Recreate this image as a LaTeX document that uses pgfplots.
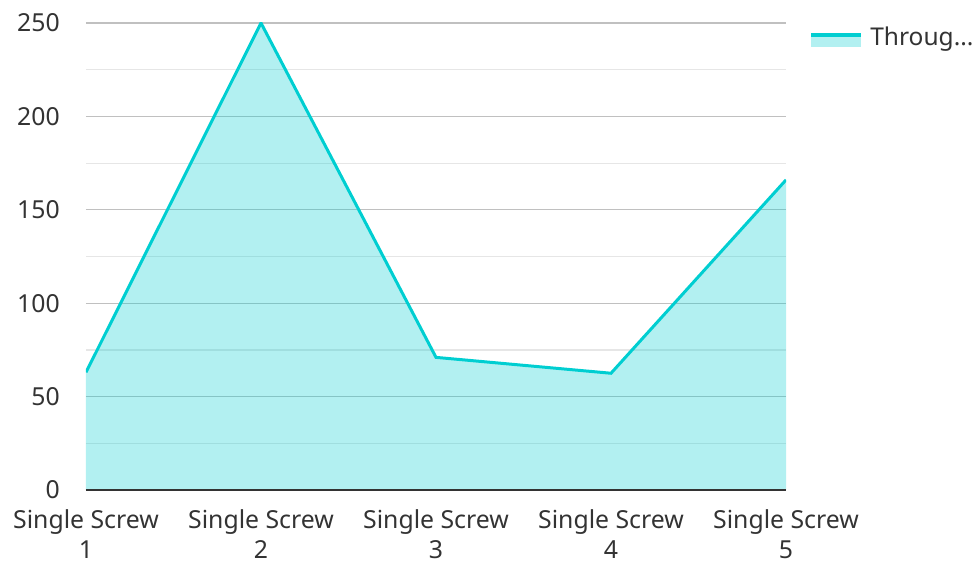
\documentclass[border=0pt]{standalone}
\usepackage{pgfplots}
\pgfplotsset{compat=1.18}
\usepackage{fontspec}
\setmainfont{Noto Sans}
\definecolor{lc}{HTML}{00CED1}
\definecolor{txt}{HTML}{333333}
\definecolor{majg}{HTML}{C0C0C0}
\definecolor{ming}{HTML}{E6E6E6}
\begin{document}
\begin{tikzpicture}
\begin{axis}[
  scale only axis, width=700pt, height=467pt,
  xmin=0, xmax=4, ymin=0, ymax=250,
  axis line style={draw=none},
  /pgf/number format/assume math mode=true,
  xtick={0,1,2,3,4},
  xticklabels={{Single Screw\\1},{Single Screw\\2},{Single Screw\\3},{Single Screw\\4},{Single Screw\\5}},
  ytick={0,50,100,150,200,250},
  minor ytick={25,75,125,175,225},
  ymajorgrids, yminorgrids,
  major grid style={majg, line width=1.2pt},
  minor grid style={ming, line width=1.2pt},
  major tick length=0pt, minor tick length=0pt,
  tick label style={font=\fontsize{24.8}{30}\selectfont, text=txt},
  xticklabel style={align=center, inner sep=0pt, anchor=north},
  xticklabel shift=19pt,
  yticklabel style={inner sep=0pt, anchor=east},
  yticklabel shift=26pt,
  legend style={draw=none, fill=none, inner sep=0pt, at={(1.033,0.993)}, anchor=north west,
    font=\fontsize{24.5}{28}\selectfont, text=txt, nodes={inner sep=0pt}, column sep=7pt},
  legend cell align=left,
]
\addplot[draw=none, fill=lc, fill opacity=0.3, forget plot] coordinates {(0,63) (1,250) (2,71) (3,62.5) (4,166)} \closedcycle;
\addplot[lc, line width=3pt, line join=miter,
  legend image code/.code={
    \path[draw=none, fill=lc, fill opacity=0.3] (0pt,2pt) rectangle (50pt,-10pt);
    \path[draw=lc, line width=4pt] (0pt,2pt) -- (50pt,2pt);
  }] coordinates {(0,63) (1,250) (2,71) (3,62.5) (4,166)};
\addlegendentry{Throug...}
\draw[txt, line width=2pt] (rel axis cs:0,0) -- (rel axis cs:1,0);
\end{axis}
\pgfresetboundingbox
\path (-86pt,-70pt) rectangle (891pt,490pt);
\end{tikzpicture}
\end{document}
